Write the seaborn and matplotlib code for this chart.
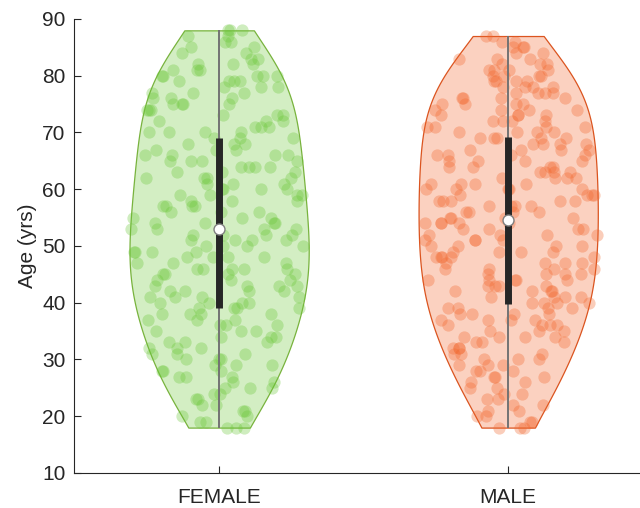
import numpy as np
import pandas as pd
import matplotlib
matplotlib.use("Agg")
import matplotlib.pyplot as plt
import seaborn as sns

# Ages (years) and how many subjects of each age are in each group
groups = ["FEMALE", "MALE"]
ages = list(range(18, 89))
female_counts = [3, 2, 2, 2, 2, 2, 2, 3, 2, 3,    # 18-27
                 3, 3, 3, 3, 3, 3, 3, 3, 3, 3,    # 28-37
                 4, 4, 4, 4, 4, 4, 3, 4, 5, 3,    # 38-47
                 4, 4, 4, 4, 4, 4, 4, 3, 3, 4,    # 48-57
                 3, 4, 4, 3, 4, 3, 4, 4, 4, 3,    # 58-67
                 3, 3, 4, 3, 3, 3, 3, 4, 3, 3,    # 68-77
                 3, 4, 5, 3, 3, 2, 2, 2, 2, 2,    # 78-87
                 3]                               # 88
male_counts = [3, 2, 2, 2, 2, 2, 2, 2, 2, 3,      # 18-27
               3, 3, 3, 3, 3, 3, 4, 3, 4, 4,      # 28-37
               4, 4, 4, 4, 4, 4, 5, 4, 4, 4,      # 38-47
               5, 4, 4, 4, 4, 4, 5, 4, 4, 4,      # 48-57
               5, 4, 5, 4, 4, 4, 4, 4, 4, 4,      # 58-67
               4, 5, 4, 4, 4, 4, 4, 4, 4, 4,      # 68-77
               4, 4, 4, 4, 3, 3, 2, 3, 2, 2,      # 78-87
               0]                                 # 88

base_colors = {"FEMALE": (0.42, 0.78, 0.22), "MALE": (0.95, 0.40, 0.17)}
edge_colors = {"FEMALE": (0.47, 0.70, 0.24), "MALE": (0.86, 0.33, 0.12)}
fill_alpha = 0.3

female_ages = np.repeat(ages, female_counts)
male_ages = np.repeat(ages, male_counts)
df = pd.DataFrame({
    "group": ["FEMALE"] * len(female_ages) + ["MALE"] * len(male_ages),
    "age": np.concatenate([female_ages, male_ages]),
})


def light(c, a):
    return tuple(1 - a * (1 - v) for v in c)


sns.set_theme(style="white")
plt.rcParams["font.family"] = ["Liberation Sans", "DejaVu Sans"]

fig = plt.figure(figsize=(6.4, 5.08), dpi=100)
ax = fig.add_axes([0.1156, 0.0689, 0.8844, 0.8937])

sns.violinplot(data=df, x="group", y="age", hue="group", order=groups,
               hue_order=groups, legend=False,
               palette={g: light(base_colors[g], fill_alpha) for g in groups},
               cut=0, inner=None, density_norm="width", width=0.62,
               bw_adjust=1.25, linewidth=0.9, saturation=1, ax=ax)

# recolour the violin outlines and find their half-widths
halfwidth = {}
for coll in list(ax.collections):
    v = coll.get_paths()[0].vertices
    pos = int(round(np.median(v[:, 0])))
    g = groups[pos]
    coll.set_edgecolor(edge_colors[g])
    coll.set_zorder(1)
    right = v[v[:, 0] >= pos]
    order = np.argsort(right[:, 1])
    halfwidth[g] = (right[order, 1], right[order, 0] - pos)

# points jittered across the violin width at their age
jitter = np.random.default_rng(7)
for pos, g in enumerate(groups):
    vals = df.loc[df.group == g, "age"].to_numpy()
    yy, hw = halfwidth[g]
    u = jitter.uniform(-1, 1, len(vals))
    xs = pos + u * np.interp(vals, yy, hw)
    ax.scatter(xs, vals, s=78, color=base_colors[g], alpha=0.32,
               linewidths=0, zorder=2)

    q1, med, q3 = np.percentile(vals, [25, 50, 75])
    ax.plot([pos, pos], [vals.min(), vals.max()], color="0.45", lw=1.4,
            zorder=3, solid_capstyle="butt")
    ax.plot([pos, pos], [q1, q3], color="0.15", lw=5.0, zorder=4,
            solid_capstyle="butt")
    ax.scatter([pos], [med], s=62, color="white", edgecolors="0.5",
               linewidths=1.0, zorder=5)

ax.set_xlim(-0.502, 1.456)
ax.set_ylim(10, 90)
ax.set_yticks(range(10, 91, 10))
ax.set_xlabel("")
ax.set_ylabel("Age (yrs)", fontsize=15, color="0.15", labelpad=4)
ax.tick_params(axis="both", direction="in", length=5, width=0.8,
               color="0.15", labelcolor="0.15", labelsize=15,
               left=True, bottom=True, pad=6)
ax.tick_params(axis="x", pad=11)
for side in ("top", "right"):
    ax.spines[side].set_visible(False)
for side in ("left", "bottom"):
    ax.spines[side].set_color("0.15")
    ax.spines[side].set_linewidth(0.8)
ax.set_facecolor("white")
fig.patch.set_facecolor("white")

fig.savefig("out.png", dpi=100)
